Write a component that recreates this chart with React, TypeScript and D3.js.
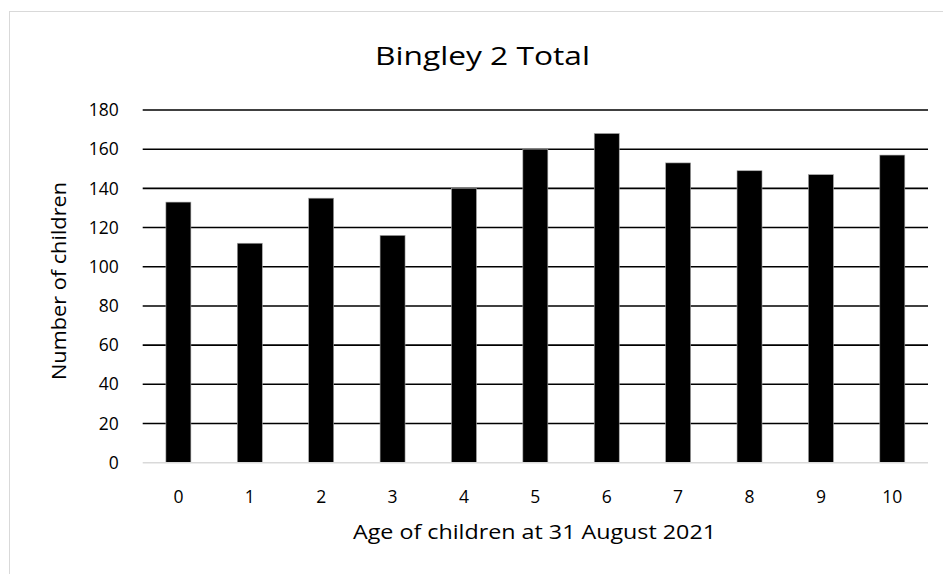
import React from 'react';
import * as d3 from 'd3';

const ages = ['0', '1', '2', '3', '4', '5', '6', '7', '8', '9', '10'];
const children = [133, 112, 135, 116, 140, 160, 168, 153, 149, 147, 157];
const yTicks = [0, 20, 40, 60, 80, 100, 120, 140, 160, 180];

const chartTitle = 'Bingley 2 Total';
const xTitle = 'Age of children at 31 August 2021';
const yTitle = 'Number of children';

const width = 943;
const height = 574;
const margin = { top: 110, right: 15, bottom: 111.3, left: 142.7 };
const font = "'Open Sans', 'Liberation Sans', sans-serif";

export default function App() {
  const innerW = width - margin.left - margin.right;
  const innerH = height - margin.top - margin.bottom;

  const x = d3.scaleBand()
    .domain(ages)
    .range([0, innerW])
    .paddingInner(0.65)
    .paddingOuter(0.325);

  const y = d3.scaleLinear()
    .domain([0, 180])
    .range([innerH, 0]);

  return (
    <svg width={width} height={height}
      style={{ position: 'absolute', left: 0, top: 0, background: '#fff' }}
      fontFamily={font}>
      {/* chart frame */}
      <rect x={9.5} y={11.5} width={960} height={620} fill="#fff" stroke="#d9d9d9" strokeWidth={1} />

      <text x={482.5} y={65} textAnchor="middle" fontSize={26} fill="#000"
        textLength={215} lengthAdjust="spacingAndGlyphs">{chartTitle}</text>

      <g transform={`translate(${margin.left},${margin.top})`}>
        {/* gridlines */}
        {yTicks.filter(t => t > 0).map(t => (
          <line key={t} x1={0} x2={innerW} y1={y(t)} y2={y(t)} stroke="#000" strokeWidth={1.6} />
        ))}

        {/* bars */}
        {children.map((v, i) => (
          <rect key={ages[i]}
            x={x(ages[i])}
            y={y(v)}
            width={x.bandwidth()}
            height={innerH - y(v)}
            fill="#000"
            stroke="#a6a6a6"
            strokeWidth={0.6} />
        ))}

        {/* baseline */}
        <line x1={0} x2={innerW} y1={innerH} y2={innerH} stroke="#d9d9d9" strokeWidth={1.5} />

        {/* y tick labels */}
        {yTicks.map(t => (
          <text key={t} x={-24} y={y(t)} dy="0.35em" textAnchor="end" fontSize={17.5} fill="#000">{t}</text>
        ))}

        {/* x tick labels */}
        {ages.map(a => (
          <text key={a} x={(x(a) || 0) + x.bandwidth() / 2} y={innerH + 40} textAnchor="middle" fontSize={17.5} fill="#000">{a}</text>
        ))}
      </g>

      <text x={534.5} y={539} textAnchor="middle" fontSize={19.5} fill="#000"
        textLength={363} lengthAdjust="spacingAndGlyphs">{xTitle}</text>

      <text transform="translate(66,281) rotate(-90)" textAnchor="middle" fontSize={19.5} fill="#000"
        textLength={198} lengthAdjust="spacingAndGlyphs">{yTitle}</text>
    </svg>
  );
}
